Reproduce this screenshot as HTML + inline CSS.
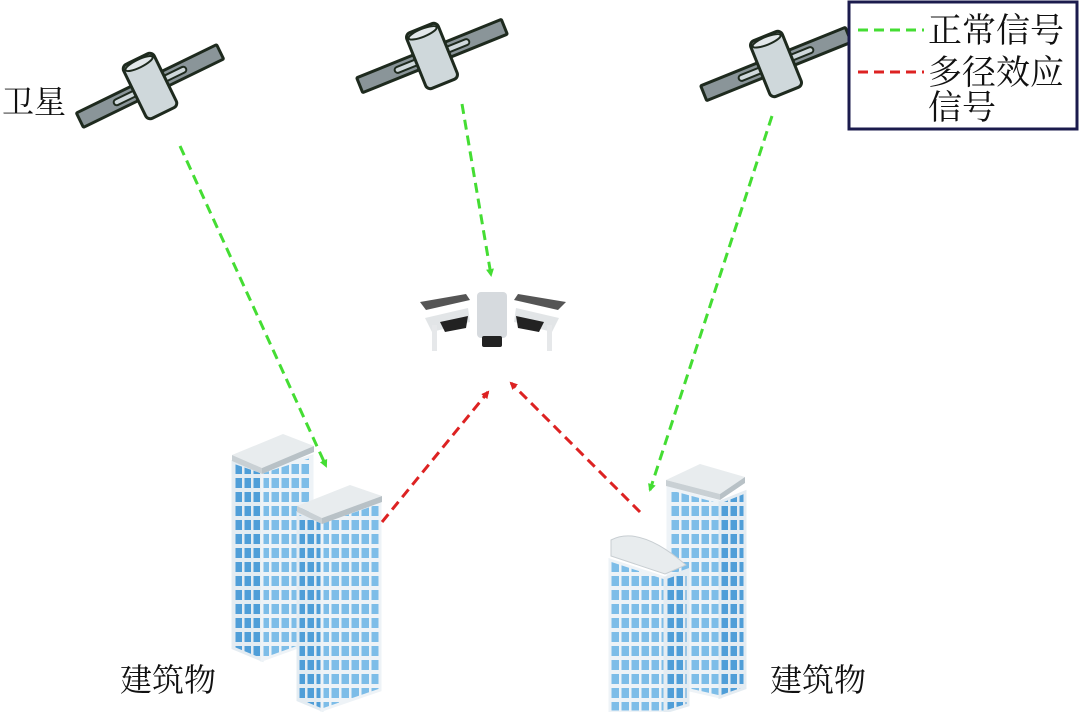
<!DOCTYPE html>
<html><head><meta charset="utf-8"><style>
html,body{margin:0;padding:0;background:#fff;}
svg{display:block;}
text{font-family:"Liberation Serif","Noto Serif CJK SC","Noto Sans CJK SC",serif;fill:#111;}
</style></head><body>
<svg width="1080" height="712" viewBox="0 0 1080 712" xmlns="http://www.w3.org/2000/svg">
<defs>
<pattern id="winL" x="0" y="0" width="9" height="14" patternUnits="userSpaceOnUse">
<rect width="9" height="14" fill="#e4ecf2"/><rect x="1.5" y="2" width="6.5" height="10" fill="#4f9ed8"/></pattern>
<pattern id="winR" x="0" y="0" width="10" height="14" patternUnits="userSpaceOnUse">
<rect width="10" height="14" fill="#eef3f7"/><rect x="1.5" y="2" width="7.5" height="10" fill="#7dbde8"/></pattern>
<marker id="ag" markerWidth="8" markerHeight="8" refX="6" refY="4" orient="auto" markerUnits="userSpaceOnUse" viewBox="0 0 8 8"><path d="M0,0 L8,4 L0,8 z" fill="#44dd33"/></marker>
<marker id="ar" markerWidth="8" markerHeight="8" refX="6" refY="4" orient="auto" markerUnits="userSpaceOnUse" viewBox="0 0 8 8"><path d="M0,0 L8,4 L0,8 z" fill="#dd2222"/></marker>
<g id="sat">
<rect x="-78" y="-8" width="156" height="16" rx="1" fill="#8a9599" stroke="#1e2a1e" stroke-width="3"/>
<rect x="-40" y="-3" width="80" height="6" rx="3" fill="#cfd8db" stroke="#1e2a1e" stroke-width="2"/>
<rect x="-17" y="-30" width="34" height="60" rx="5" fill="#cfd8db" stroke="#1e2a1e" stroke-width="3"/>
<ellipse cx="0" cy="-25" rx="15" ry="4" fill="#e3e8ea" stroke="#1e2a1e" stroke-width="2"/>
</g>
</defs>

<use href="#sat" transform="translate(150,86) rotate(-26)"/>
<use href="#sat" transform="translate(432,56) rotate(-22)"/>
<use href="#sat" transform="translate(776,64) rotate(-22)"/>

<rect x="849" y="2" width="228" height="127" fill="#fff" stroke="#1b1b4d" stroke-width="3"/>
<line x1="858" y1="30" x2="924" y2="30" stroke="#44dd33" stroke-width="3" stroke-dasharray="10,6"/>
<text x="928" y="42" font-size="34">正常信号</text>
<line x1="858" y1="72" x2="924" y2="72" stroke="#dd2222" stroke-width="3" stroke-dasharray="10,6"/>
<text x="928" y="84" font-size="34">多径效应</text>
<text x="928" y="119" font-size="34">信号</text>

<text x="2" y="113" font-size="32">卫星</text>
<text x="120" y="691" font-size="32">建筑物</text>
<text x="770" y="691" font-size="32">建筑物</text>

<!-- left buildings -->
<polygon points="233,462 262,472 262,660 233,648" fill="url(#winL)" stroke="#e4ecf2" stroke-width="3"/>
<polygon points="262,472 312,456 312,642 262,660" fill="url(#winR)" stroke="#eef3f7" stroke-width="3"/>
<polygon points="232,455 283,434 314,446 262,468" fill="#e8ecee"/>
<polygon points="232,455 262,468 262,474 232,461" fill="#c9d0d4"/>
<polygon points="262,468 314,446 314,452 262,474" fill="#b8c1c6"/>
<polygon points="298,513 322,522 322,710 298,700" fill="url(#winL)" stroke="#e4ecf2" stroke-width="3"/>
<polygon points="322,522 380,502 380,690 322,710" fill="url(#winR)" stroke="#eef3f7" stroke-width="3"/>
<polygon points="297,506 350,485 382,496 322,518" fill="#e8ecee"/>
<polygon points="297,506 322,518 322,524 297,512" fill="#c9d0d4"/>
<polygon points="322,518 382,496 382,502 322,524" fill="#b8c1c6"/>

<!-- right buildings -->
<polygon points="668,488 720,502 720,697 668,685" fill="url(#winR)" stroke="#eef3f7" stroke-width="3"/>
<polygon points="720,502 745,492 745,688 720,697" fill="url(#winL)" stroke="#e4ecf2" stroke-width="3"/>
<polygon points="666,480 700,464 745,477 720,494" fill="#e8ecee"/>
<polygon points="666,480 720,494 720,500 666,486" fill="#c9d0d4"/>
<polygon points="720,494 745,477 745,483 720,500" fill="#b8c1c6"/>
<polygon points="610,560 665,578 665,712 610,712" fill="url(#winR)" stroke="#eef3f7" stroke-width="3"/>
<polygon points="665,578 688,570 688,705 665,712" fill="url(#winL)" stroke="#e4ecf2" stroke-width="3"/>
<path d="M611,540 Q640,525 686,565 L665,574 L611,556 z" fill="#e8ecee" stroke="#c8ced2"/>

<!-- drone -->
<g>
<path d="M420,302 L466,294 L470,300 L426,310 z" fill="#555"/>
<path d="M566,302 L518,294 L514,300 L558,310 z" fill="#555"/>
<path d="M425,318 L468,308 L470,322 L432,332 z" fill="#e2e5e7"/>
<path d="M559,318 L516,308 L514,322 L552,332 z" fill="#e2e5e7"/>
<path d="M440,322 L468,316 L466,328 L445,332 z" fill="#222"/>
<path d="M544,322 L516,316 L518,328 L539,332 z" fill="#222"/>
<rect x="432" y="325" width="5" height="26" fill="#e6e8ea"/>
<rect x="547" y="325" width="5" height="26" fill="#e6e8ea"/>
<rect x="477" y="292" width="30" height="46" rx="4" fill="#d6dade"/>
<rect x="482" y="336" width="20" height="11" rx="2" fill="#222"/>
</g>

<g fill="none" stroke-width="3" stroke-dasharray="10,6">
<line x1="180" y1="146" x2="326" y2="466" stroke="#44dd33" marker-end="url(#ag)"/>
<line x1="462" y1="104" x2="491" y2="275" stroke="#44dd33" marker-end="url(#ag)"/>
<line x1="772" y1="116" x2="650" y2="490" stroke="#44dd33" marker-end="url(#ag)"/>
<line x1="382" y1="522" x2="488" y2="392" stroke="#dd2222" marker-end="url(#ar)"/>
<line x1="640" y1="512" x2="511" y2="383" stroke="#dd2222" marker-end="url(#ar)"/>
</g>
</svg>
</body></html>
